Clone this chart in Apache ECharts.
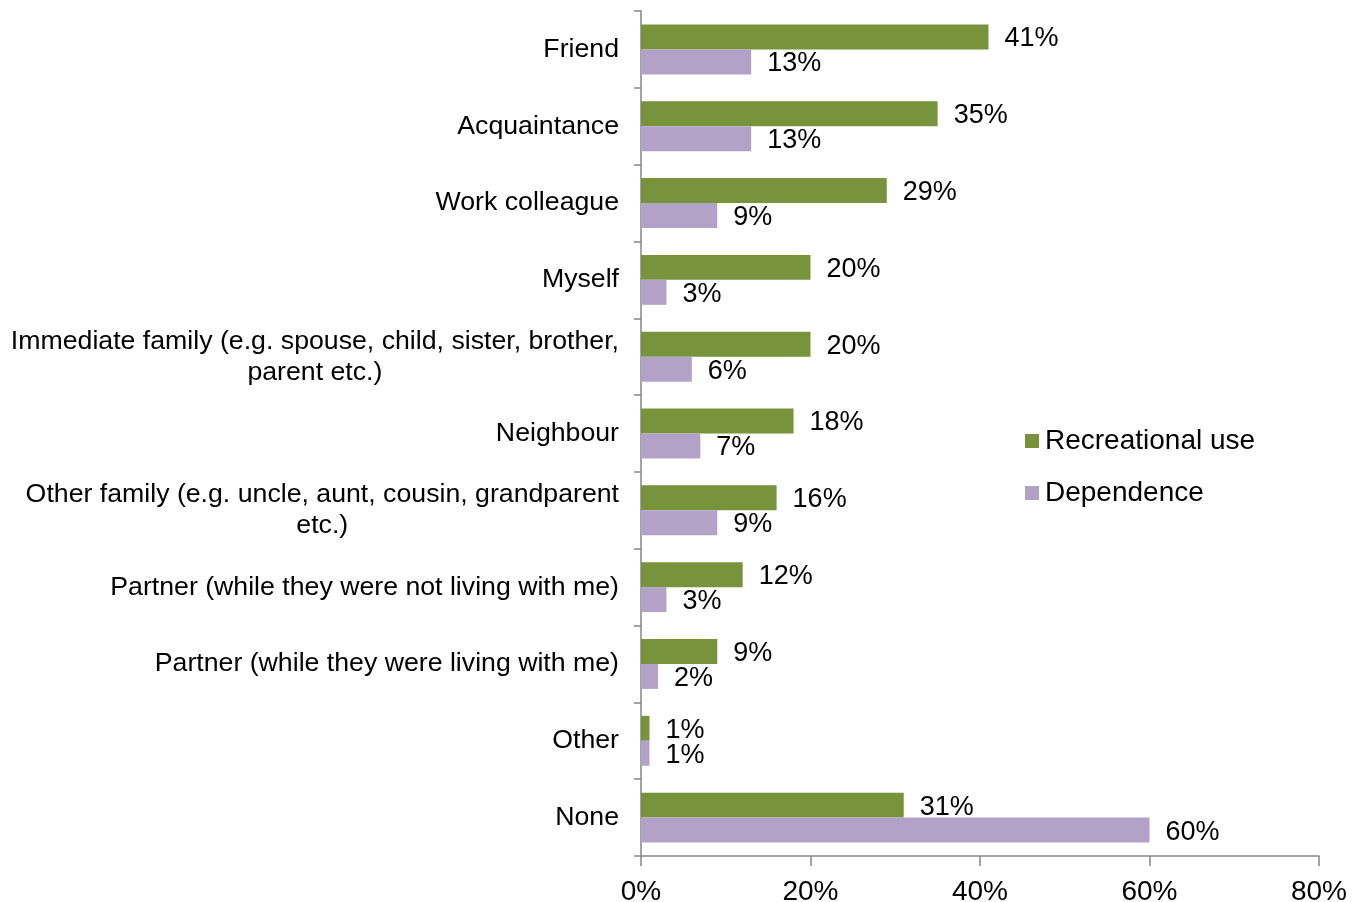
<!DOCTYPE html>
<html>
<head>
<meta charset="utf-8">
<script src="https://cdn.jsdelivr.net/npm/echarts@6/dist/echarts.min.js"></script>
<style>html,body{margin:0;padding:0;background:#fff;}#c{width:1364px;height:902px;}</style>
</head>
<body>
<div id="c"></div>
<script>
const categories = [
  'Friend',
  'Acquaintance',
  'Work colleague',
  'Myself',
  'Immediate family (e.g. spouse, child, sister, brother,\nparent etc.)',
  'Neighbour',
  'Other family (e.g. uncle, aunt, cousin, grandparent\netc.)',
  'Partner (while they were not living with me)',
  'Partner (while they were living with me)',
  'Other',
  'None'
];
const recreational = [41, 35, 29, 20, 20, 18, 16, 12, 9, 1, 31];
const dependence = [13, 13, 9, 3, 6, 7, 9, 3, 2, 1, 60];
const seriesNames = ['Recreational use', 'Dependence'];
const xTicks = [0, 20, 40, 60, 80];

const FONT = '"Liberation Sans", Arial, sans-serif';
const chart = echarts.init(document.getElementById('c'), null, {renderer: 'canvas'});
const labelCommon = {
  show: true, position: 'right', distance: 16, offset: [0, 2],
  formatter: '{c}%', color: '#000', fontSize: 27, fontFamily: FONT
};
chart.setOption({
  animation: false,
  backgroundColor: '#fff',
  grid: {left: 641, right: 45, top: 11, bottom: 46, containLabel: false, outerBoundsMode: 'none'},
  legend: {
    orient: 'vertical', left: 1025, top: 427, padding: 0,
    icon: 'rect', itemWidth: 14, itemHeight: 14, itemGap: 24,
    textStyle: {fontSize: 28, fontFamily: FONT, color: '#000', padding: [0, 0, 0, 1]},
    data: seriesNames
  },
  xAxis: {
    type: 'value', min: xTicks[0], max: xTicks[xTicks.length - 1], interval: 20,
    axisLine: {show: true, lineStyle: {color: '#868686', width: 1.5}},
    axisTick: {show: true, length: 10, lineStyle: {color: '#868686', width: 1.5}},
    splitLine: {show: false},
    axisLabel: {formatter: '{value}%', fontSize: 28, fontFamily: FONT, color: '#000', margin: 22}
  },
  yAxis: {
    type: 'category', inverse: true, data: categories,
    axisLine: {show: true, lineStyle: {color: '#868686', width: 1.5}},
    axisTick: {show: true, length: 7, alignWithLabel: false, lineStyle: {color: '#868686', width: 1.5}},
    axisLabel: {
      margin: 22, color: '#000', fontSize: 26.7, fontFamily: FONT, lineHeight: 31,
      formatter: function (v) { return v.split('\n').map(s => '{c|' + s + '}').join('\n'); },
      rich: {c: {align: 'center', fontSize: 26.7, fontFamily: FONT, lineHeight: 31, color: '#000'}}
    }
  },
  series: [
    {name: seriesNames[0], type: 'bar', data: recreational, barGap: '0%', barCategoryGap: '35%',
     itemStyle: {color: '#77933C'}, label: labelCommon},
    {name: seriesNames[1], type: 'bar', data: dependence, barGap: '0%', barCategoryGap: '35%',
     itemStyle: {color: '#B3A2C7'}, label: labelCommon}
  ]
});
</script>
</body>
</html>
